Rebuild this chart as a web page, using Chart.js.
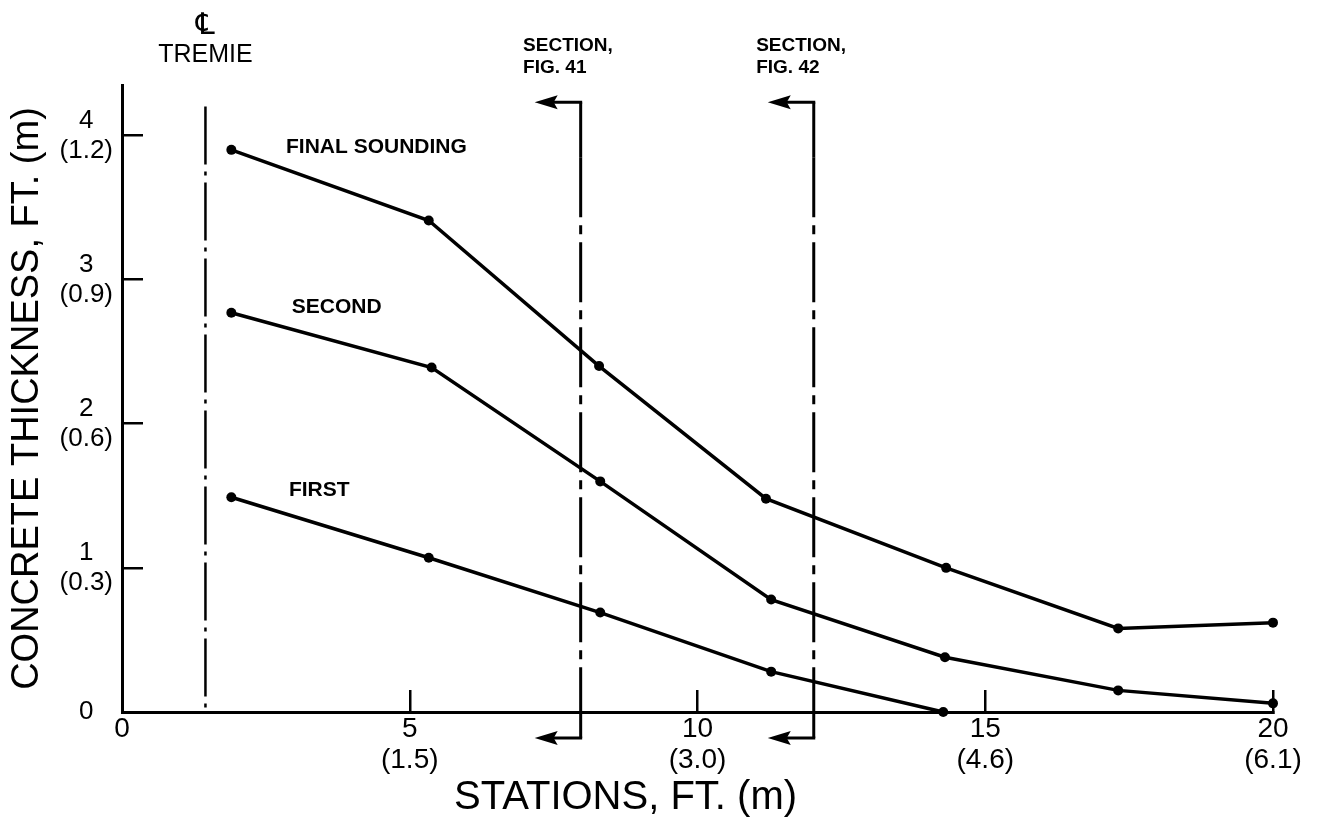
<!DOCTYPE html>
<html>
<head>
<meta charset="utf-8">
<script src="https://cdn.jsdelivr.net/npm/chart.js@4.4.0/dist/chart.umd.min.js"></script>
<style>
html,body{margin:0;padding:0;background:#fff;}
canvas{display:block;}
</style>
</head>
<body>
<canvas id="c" width="1320" height="822"></canvas>
<script>
// ---- data ----
const stationsFinal   = [1.9, 5.33, 8.29, 11.19, 14.32, 17.31, 20.0];
const thicknessFinal  = [3.90, 3.41, 2.40, 1.48, 1.00, 0.58, 0.62];
const stationsSecond  = [1.9, 5.38, 8.31, 11.28, 14.30, 17.31, 20.0];
const thicknessSecond = [2.77, 2.39, 1.60, 0.78, 0.38, 0.15, 0.06];
const stationsFirst   = [1.9, 5.33, 8.31, 11.28, 14.27];
const thicknessFirst  = [1.49, 1.07, 0.69, 0.28, 0.0];

const seriesNames = ['FINAL SOUNDING', 'SECOND', 'FIRST'];

const xTickValues = [0, 5, 10, 15, 20];
const xTickMetric = ['', '(1.5)', '(3.0)', '(4.6)', '(6.1)'];
const yTickValues = [0, 1, 2, 3, 4];
const yTickMetric = ['', '(0.3)', '(0.6)', '(0.9)', '(1.2)'];

const xTitle = 'STATIONS, FT. (m)';
const yTitle = 'CONCRETE THICKNESS, FT. (m)';

const centerLineStation = 1.45;
const centerLineLabel = ['\u2104', 'TREMIE'];
const sectionStations = [7.97, 12.02];
const sectionLabels = [['SECTION,', 'FIG. 41'], ['SECTION,', 'FIG. 42']];

// label anchors (data units)
const seriesLabelX = [2.85, 2.95, 2.9];
const seriesLabelY = [3.92, 2.81, 1.54];

const FONT = "'Liberation Sans', Arial, Helvetica, sans-serif";

function pts(xs, ys) { return xs.map((x, i) => ({ x: x, y: ys[i] })); }

function ds(label, xs, ys) {
  return {
    label: label,
    data: pts(xs, ys),
    borderColor: '#000',
    backgroundColor: '#000',
    borderWidth: 3.5,
    pointRadius: 5,
    pointBackgroundColor: '#000',
    pointBorderWidth: 0,
    tension: 0,
    clip: false
  };
}

const annot = {
  id: 'annot',
  afterDraw(chart) {
    const ctx = chart.ctx;
    const x = chart.scales.x, y = chart.scales.y;
    ctx.save();
    ctx.strokeStyle = '#000';
    ctx.fillStyle = '#000';
    ctx.lineCap = 'butt';

    // centre line of tremie
    const cx = x.getPixelForValue(centerLineStation);
    ctx.lineWidth = 2.5;
    ctx.setLineDash([58, 7, 4, 7]);
    ctx.beginPath();
    ctx.moveTo(cx, y.getPixelForValue(4.2));
    ctx.lineTo(cx, y.getPixelForValue(0));
    ctx.stroke();
    ctx.setLineDash([]);
    ctx.textAlign = 'center';
    ctx.textBaseline = 'middle';
    ctx.font = '30px ' + "'DejaVu Sans', " + FONT;
    ctx.fillText(centerLineLabel[0], cx, y.getPixelForValue(4.76));
    ctx.font = '25px ' + FONT;
    ctx.fillText(centerLineLabel[1], cx, y.getPixelForValue(4.555));

    // section cut lines with arrows
    const topV = 4.23, botV = -0.18;
    sectionStations.forEach((s, i) => {
      const sx = x.getPixelForValue(s);
      const ty = y.getPixelForValue(topV), by = y.getPixelForValue(botV);
      ctx.lineWidth = 3;
      ctx.setLineDash([]);
      ctx.beginPath();
      ctx.moveTo(sx, ty);
      ctx.lineTo(sx, ty + 55);
      ctx.stroke();
      ctx.setLineDash([60, 8, 9, 8]);
      ctx.beginPath();
      ctx.moveTo(sx, ty + 55);
      ctx.lineTo(sx, y.getPixelForValue(0));
      ctx.stroke();
      ctx.setLineDash([]);
      ctx.beginPath();
      ctx.moveTo(sx, y.getPixelForValue(0));
      ctx.lineTo(sx, by);
      ctx.stroke();
      [ty, by].forEach(ay => {
        const tip = sx - 46;
        ctx.beginPath();
        ctx.moveTo(sx + 1.5, ay);
        ctx.lineTo(tip + 12, ay);
        ctx.stroke();
        ctx.beginPath();
        ctx.moveTo(tip, ay);
        ctx.lineTo(tip + 23, ay - 7);
        ctx.lineTo(tip + 19, ay);
        ctx.lineTo(tip + 23, ay + 7);
        ctx.closePath();
        ctx.fill();
      });
      ctx.font = 'bold 19px ' + FONT;
      ctx.textAlign = 'left';
      ctx.textBaseline = 'middle';
      const lx = x.getPixelForValue(s - 1.0);
      ctx.fillText(sectionLabels[i][0], lx, y.getPixelForValue(4.625));
      ctx.fillText(sectionLabels[i][1], lx, y.getPixelForValue(4.47));
    });

    // series labels
    ctx.font = 'bold 21px ' + FONT;
    ctx.textAlign = 'left';
    ctx.textBaseline = 'middle';
    seriesNames.forEach((n, i) => {
      ctx.fillText(n, x.getPixelForValue(seriesLabelX[i]), y.getPixelForValue(seriesLabelY[i]));
    });

    // x-axis title
    ctx.font = '40px ' + FONT;
    ctx.textAlign = 'center';
    ctx.fillText(xTitle, x.getPixelForValue(8.75), 798);
    ctx.restore();
  }
};

new Chart(document.getElementById('c'), {
  type: 'line',
  data: {
    datasets: [
      ds(seriesNames[0], stationsFinal, thicknessFinal),
      ds(seriesNames[1], stationsSecond, thicknessSecond),
      ds(seriesNames[2], stationsFirst, thicknessFirst)
    ]
  },
  options: {
    responsive: false,
    animation: false,
    events: [],
    layout: { padding: { top: 85, right: 47, bottom: 0, left: 0 } },
    plugins: { legend: { display: false }, tooltip: { enabled: false } },
    scales: {
      x: {
        type: 'linear',
        min: 0, max: 20,
        afterFit: s => { s.height = 110; s.paddingRight = 0; s.paddingLeft = 0; },
        afterBuildTicks: s => { s.ticks = xTickValues.map(v => ({ value: v })); },
        border: { display: true, color: '#000', width: 3 },
        grid: { drawOnChartArea: false, drawTicks: true, tickLength: -22, color: '#000', lineWidth: 2.5 },
        ticks: {
          color: '#000',
          padding: 24,
          maxRotation: 0,
          font: { family: FONT, size: 28, lineHeight: 1.1 },
          callback: (v) => {
            const i = xTickValues.indexOf(v);
            return xTickMetric[i] ? [String(v), xTickMetric[i]] : String(v);
          }
        },
        title: { display: false }
      },
      y: {
        type: 'linear',
        min: 0, max: 4.35,
        afterFit: s => { s.width = 122; s.paddingTop = 0; s.paddingBottom = 0; },
        afterBuildTicks: s => { s.ticks = yTickValues.map(v => ({ value: v })); },
        border: { display: true, color: '#000', width: 3 },
        grid: { drawOnChartArea: false, drawTicks: true, tickLength: -21, color: '#000', lineWidth: 2.5 },
        ticks: {
          color: '#000',
          padding: 30,
          crossAlign: 'center',
          font: { family: FONT, size: 26, lineHeight: 1.15 },
          callback: (v) => {
            const i = yTickValues.indexOf(v);
            return yTickMetric[i] ? [String(v), yTickMetric[i]] : String(v);
          }
        },
        title: {
          display: true,
          text: yTitle,
          color: '#000',
          font: { family: FONT, size: 38 },
          padding: { top: 5, bottom: 0 }
        }
      }
    }
  },
  plugins: [annot]
});
</script>
</body>
</html>
